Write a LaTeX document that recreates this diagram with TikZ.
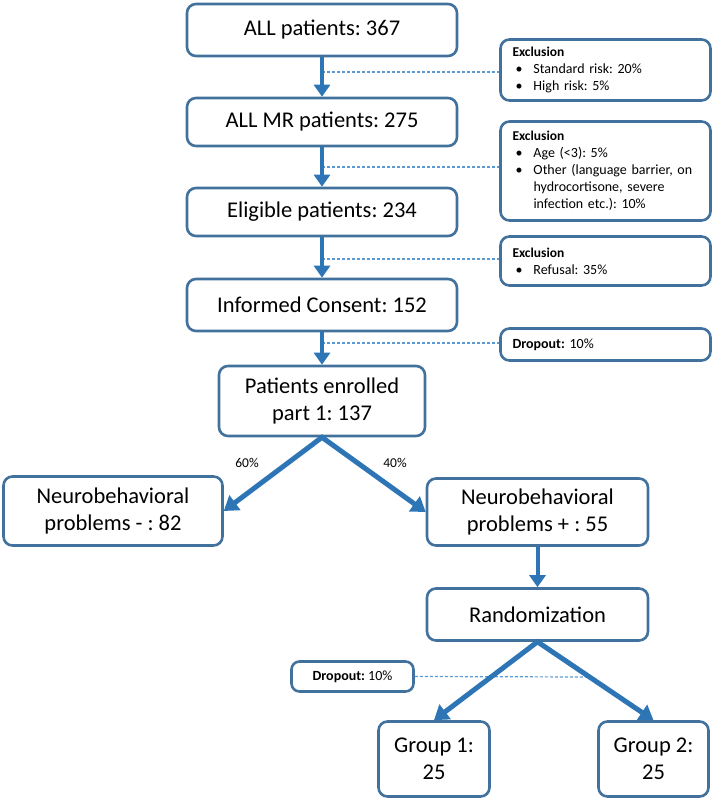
\documentclass[tikz,border=0pt]{standalone}
\usepackage{fontspec}
\setmainfont{Carlito}
\usetikzlibrary{arrows.meta}
\definecolor{boxblue}{HTML}{41719C}
\definecolor{arrowblue}{HTML}{2E75B6}
\definecolor{dashblue}{HTML}{5B9BD5}
\frenchspacing
\tikzset{
  stage/.style={draw=boxblue, line width=2.6pt, rounded corners=9pt, align=center,
    font=\fontsize{22.5}{27}\selectfont, inner sep=2pt},
  note/.style={draw=boxblue, line width=2.6pt, rounded corners=9pt, align=left,
    text width=186pt, inner xsep=12pt, inner ysep=2pt, font=\fontsize{14}{17}\selectfont},
  flow/.style={arrowblue, line width=4pt, -{Triangle[width=16pt,length=12pt]}},
  split/.style={arrowblue, line width=5pt, {Triangle[width=18pt,length=14pt]}-{Triangle[width=18pt,length=14pt]}},
  side/.style={dashblue, line width=1.2pt, dash pattern=on 3pt off 2pt},
  pct/.style={font=\fontsize{13.5}{16}\selectfont}
}
\newcommand{\bul}{\makebox[21pt][l]{\hspace{3pt}\textbullet}}
\newcommand{\cont}{\hspace*{21pt}}
\newcommand{\hd}[1]{{\fontsize{13.5}{17}\selectfont\bfseries #1}}
\begin{document}
\begin{tikzpicture}[x=1pt,y=-1pt]
  \useasboundingbox (0,0) rectangle (720,802);

  \node[stage, minimum width=270pt, minimum height=52pt] (all) at (322,30) {ALL patients: 367};
  \node[stage, minimum width=270pt, minimum height=48pt] (mr) at (322,122) {ALL MR patients: 275};
  \node[stage, minimum width=270pt, minimum height=48pt] (elig) at (322,212) {Eligible patients: 234};
  \node[stage, minimum width=270pt, minimum height=52pt] (cons) at (322,305) {Informed Consent: 152};
  \node[stage, minimum width=206pt, minimum height=70pt] (enr) at (322,401) {Patients enrolled\\part 1: 137};

  \node[stage, minimum width=219pt, minimum height=69pt] (neg) at (113,511) {Neurobehavioral\\problems - : 82};
  \node[stage, minimum width=221pt, minimum height=67pt] (pos) at (537.5,512) {Neurobehavioral\\problems + : 55};
  \node[stage, minimum width=221pt, minimum height=52pt] (rand) at (537.5,614.5) {Randomization};
  \node[stage, minimum width=111pt, minimum height=75pt] (g1) at (434,759) {Group 1:\\25};
  \node[stage, minimum width=110pt, minimum height=75pt] (g2) at (653.5,759) {Group 2:\\25};

  \node[note, minimum height=61pt] (ex1) at (605.5,70)
    {\hd{Exclusion}\\\bul Standard risk: 20\%\\\bul High risk: 5\%};
  \node[note, minimum height=99pt] (ex2) at (605.5,171)
    {\hd{Exclusion}\\\bul Age (<3): 5\%\\\bul Other (language barrier, on\\\cont hydrocortisone, severe\\\cont infection etc.): 10\%};
  \node[note, minimum height=49pt] (ex3) at (605.5,261)
    {\hd{Exclusion}\\\bul Refusal: 35\%};
  \node[note, minimum height=32pt] (dr1) at (605.5,344.5) {\textbf{Dropout:} 10\%};
  \node[draw=boxblue, line width=2.6pt, rounded corners=8pt, minimum width=122pt, minimum height=30pt,
    font=\fontsize{14}{17}\selectfont] (dr2) at (352.5,676.5) {\textbf{Dropout:} 10\%};

  \node[pct] (p60) at (247,463) {60\%};
  \node[pct] (p40) at (395,463) {40\%};

  \coordinate (c1) at (322,72);
  \coordinate (c2) at (322,167);
  \coordinate (c3) at (322,259);
  \coordinate (c4) at (322,343);
  \coordinate (c5) at (589,677);
  \draw[side] (c1) -- (c1 -| ex1.west);
  \draw[side] (c2) -- (c2 -| ex2.west);
  \draw[side] (c3) -- (c3 -| ex3.west);
  \draw[side] (c4) -- (c4 -| dr1.west);
  \draw[side] (dr2.east) -- (c5);

  \draw[flow] (all.south) -- (mr.north);
  \draw[flow] (mr.south) -- (elig.north);
  \draw[flow] (elig.south) -- (cons.north);
  \draw[flow] (cons.south) -- (enr.north);
  \draw[split] (neg.east) -- (enr.south) -- (pos.west);
  \draw[flow] (pos.south) -- (rand.north);
  \draw[split] (g1.north) -- (rand.south) -- (g2.north);
\end{tikzpicture}
\end{document}
